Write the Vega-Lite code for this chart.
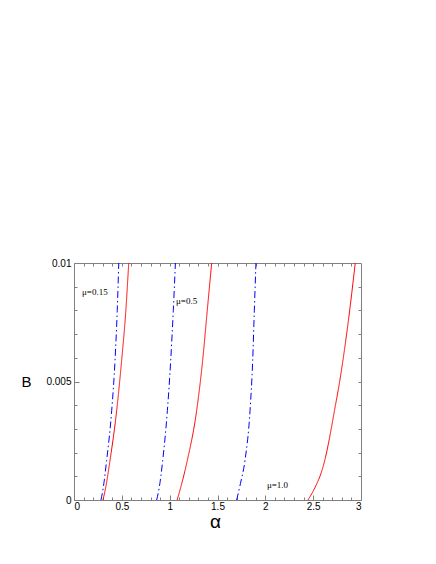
{
  "$schema": "https://vega.github.io/schema/vega-lite/v6.json",
  "width": 287,
  "height": 237,
  "autosize": {"type": "none"},
  "padding": {"left": 74, "top": 263, "right": 75, "bottom": 64},
  "background": "white",
  "config": {
    "view": {"stroke": "#808080", "strokeWidth": 1},
    "axis": {
      "domain": false,
      "grid": false,
      "tickColor": "#808080",
      "labelFont": "Liberation Sans",
      "labelFontSize": 10,
      "labelColor": "black",
      "titleFont": "Liberation Sans",
      "titleFontWeight": "normal",
      "titleColor": "black"
    }
  },
  "datasets": {
    "curves": [
      {"alpha": 0.282, "B": 0.0, "curve": "b015", "kind": "dashdot", "o": 1},
      {"alpha": 0.305, "B": 0.0005, "curve": "b015", "kind": "dashdot", "o": 2},
      {"alpha": 0.341, "B": 0.00166, "curve": "b015", "kind": "dashdot", "o": 3},
      {"alpha": 0.394, "B": 0.00377, "curve": "b015", "kind": "dashdot", "o": 4},
      {"alpha": 0.429, "B": 0.0059, "curve": "b015", "kind": "dashdot", "o": 5},
      {"alpha": 0.452, "B": 0.008, "curve": "b015", "kind": "dashdot", "o": 6},
      {"alpha": 0.468, "B": 0.01, "curve": "b015", "kind": "dashdot", "o": 7},
      {"alpha": 0.303, "B": 0.0, "curve": "r015", "kind": "solid", "o": 1},
      {"alpha": 0.33, "B": 0.0005, "curve": "r015", "kind": "solid", "o": 2},
      {"alpha": 0.376, "B": 0.00166, "curve": "r015", "kind": "solid", "o": 3},
      {"alpha": 0.446, "B": 0.00377, "curve": "r015", "kind": "solid", "o": 4},
      {"alpha": 0.498, "B": 0.00589, "curve": "r015", "kind": "solid", "o": 5},
      {"alpha": 0.542, "B": 0.008, "curve": "r015", "kind": "solid", "o": 6},
      {"alpha": 0.572, "B": 0.01, "curve": "r015", "kind": "solid", "o": 7},
      {"alpha": 0.864, "B": 0.0, "curve": "b05", "kind": "dashdot", "o": 1},
      {"alpha": 0.89, "B": 0.0005, "curve": "b05", "kind": "dashdot", "o": 2},
      {"alpha": 0.927, "B": 0.00166, "curve": "b05", "kind": "dashdot", "o": 3},
      {"alpha": 0.976, "B": 0.00377, "curve": "b05", "kind": "dashdot", "o": 4},
      {"alpha": 1.011, "B": 0.0059, "curve": "b05", "kind": "dashdot", "o": 5},
      {"alpha": 1.038, "B": 0.008, "curve": "b05", "kind": "dashdot", "o": 6},
      {"alpha": 1.06, "B": 0.01, "curve": "b05", "kind": "dashdot", "o": 7},
      {"alpha": 1.078, "B": 0.0, "curve": "r05", "kind": "solid", "o": 1},
      {"alpha": 1.12, "B": 0.0006, "curve": "r05", "kind": "solid", "o": 2},
      {"alpha": 1.184, "B": 0.00166, "curve": "r05", "kind": "solid", "o": 3},
      {"alpha": 1.282, "B": 0.00377, "curve": "r05", "kind": "solid", "o": 4},
      {"alpha": 1.345, "B": 0.0059, "curve": "r05", "kind": "solid", "o": 5},
      {"alpha": 1.393, "B": 0.008, "curve": "r05", "kind": "solid", "o": 6},
      {"alpha": 1.439, "B": 0.01, "curve": "r05", "kind": "solid", "o": 7},
      {"alpha": 1.70, "B": 0.0, "curve": "b10", "kind": "dashdot", "o": 1},
      {"alpha": 1.74, "B": 0.0007, "curve": "b10", "kind": "dashdot", "o": 2},
      {"alpha": 1.787, "B": 0.00166, "curve": "b10", "kind": "dashdot", "o": 3},
      {"alpha": 1.84, "B": 0.00377, "curve": "b10", "kind": "dashdot", "o": 4},
      {"alpha": 1.868, "B": 0.0059, "curve": "b10", "kind": "dashdot", "o": 5},
      {"alpha": 1.885, "B": 0.008, "curve": "b10", "kind": "dashdot", "o": 6},
      {"alpha": 1.902, "B": 0.01, "curve": "b10", "kind": "dashdot", "o": 7},
      {"alpha": 2.445, "B": 0.0, "curve": "r10", "kind": "solid", "o": 1},
      {"alpha": 2.49, "B": 0.0003, "curve": "r10", "kind": "solid", "o": 2},
      {"alpha": 2.537, "B": 0.00068, "curve": "r10", "kind": "solid", "o": 3},
      {"alpha": 2.58, "B": 0.0011, "curve": "r10", "kind": "solid", "o": 4},
      {"alpha": 2.624, "B": 0.00172, "curve": "r10", "kind": "solid", "o": 5},
      {"alpha": 2.67, "B": 0.0026, "curve": "r10", "kind": "solid", "o": 6},
      {"alpha": 2.715, "B": 0.0036, "curve": "r10", "kind": "solid", "o": 7},
      {"alpha": 2.783, "B": 0.00515, "curve": "r10", "kind": "solid", "o": 8},
      {"alpha": 2.866, "B": 0.0075, "curve": "r10", "kind": "solid", "o": 9},
      {"alpha": 2.94, "B": 0.01, "curve": "r10", "kind": "solid", "o": 10}
    ],
    "labels": [
      {"alpha": 0.084, "B": 0.00877, "text": "μ=0.15"},
      {"alpha": 1.066, "B": 0.0084, "text": "μ=0.5"},
      {"alpha": 2.017, "B": 0.00065, "text": "μ=1.0"}
    ]
  },
  "resolve": {"axis": {"x": "independent", "y": "independent"}},
  "layer": [
    {
      "data": {"name": "curves"},
      "mark": {"type": "line", "strokeWidth": 1, "clip": true, "interpolate": "monotone"},
      "encoding": {
        "x": {
          "field": "alpha", "type": "quantitative",
          "scale": {"domain": [0, 3], "nice": false, "zero": false},
          "axis": {
            "orient": "bottom",
            "values": [0, 0.5, 1, 1.5, 2, 2.5, 3],
            "labelExpr": "datum.value === 0 ? '0' : format(datum.value, '~g')",
            "tickSize": -5,
            "labelPadding": 6,
            "title": "α",
            "titleFontSize": 19,
            "titleX": 141,
            "titleY": 21,
            "titleBaseline": "middle",
            "titleAlign": "center"
          }
        },
        "y": {
          "field": "B", "type": "quantitative",
          "scale": {"domain": [0, 0.01], "nice": false, "zero": false},
          "axis": {
            "orient": "left",
            "values": [0, 0.005, 0.01],
            "labelExpr": "datum.value === 0 ? '0' : format(datum.value, '~g')",
            "tickSize": -5,
            "labelPadding": 8,
            "title": "B",
            "titleAngle": 0,
            "titleFontSize": 15,
            "titleX": -48,
            "titleY": 118,
            "titleBaseline": "middle",
            "titleAlign": "center"
          }
        },
        "detail": {"field": "curve"},
        "order": {"field": "o"},
        "color": {
          "field": "kind", "type": "nominal",
          "scale": {"domain": ["solid", "dashdot"], "range": ["#ff0000", "#0000ff"]},
          "legend": null
        },
        "strokeDash": {
          "field": "kind", "type": "nominal",
          "scale": {"domain": ["solid", "dashdot"], "range": [[1, 0], [7, 3, 1.5, 3]]},
          "legend": null
        }
      }
    },
    {
      "data": {"name": "curves"},
      "mark": {"type": "point", "opacity": 0},
      "encoding": {
        "x": {
          "field": "alpha", "type": "quantitative",
          "axis": {
            "orient": "top",
            "values": [0.1,0.2,0.3,0.4,0.5,0.6,0.7,0.8,0.9,1,1.1,1.2,1.3,1.4,1.5,1.6,1.7,1.8,1.9,2,2.1,2.2,2.3,2.4,2.5,2.6,2.7,2.8,2.9],
            "labels": false, "tickSize": -3, "title": null
          }
        },
        "y": {
          "field": "B", "type": "quantitative",
          "axis": {
            "orient": "right",
            "values": [0.001,0.002,0.003,0.004,0.005,0.006,0.007,0.008,0.009],
            "labels": false, "tickSize": -3, "title": null
          }
        }
      }
    },
    {
      "data": {"name": "curves"},
      "mark": {"type": "point", "opacity": 0},
      "encoding": {
        "x": {
          "field": "alpha", "type": "quantitative",
          "axis": {
            "orient": "bottom",
            "values": [0.1,0.2,0.3,0.4,0.6,0.7,0.8,0.9,1.1,1.2,1.3,1.4,1.6,1.7,1.8,1.9,2.1,2.2,2.3,2.4,2.6,2.7,2.8,2.9],
            "labels": false, "tickSize": -3, "title": null
          }
        },
        "y": {
          "field": "B", "type": "quantitative",
          "axis": {
            "orient": "left",
            "values": [0.001,0.002,0.003,0.004,0.006,0.007,0.008,0.009],
            "labels": false, "tickSize": -3, "title": null
          }
        }
      }
    },
    {
      "data": {"name": "labels"},
      "mark": {"type": "text", "font": "Liberation Serif", "fontSize": 9, "align": "left", "baseline": "middle", "color": "black"},
      "encoding": {
        "x": {"field": "alpha", "type": "quantitative", "axis": null},
        "y": {"field": "B", "type": "quantitative", "axis": null},
        "text": {"field": "text"}
      }
    }
  ]
}
